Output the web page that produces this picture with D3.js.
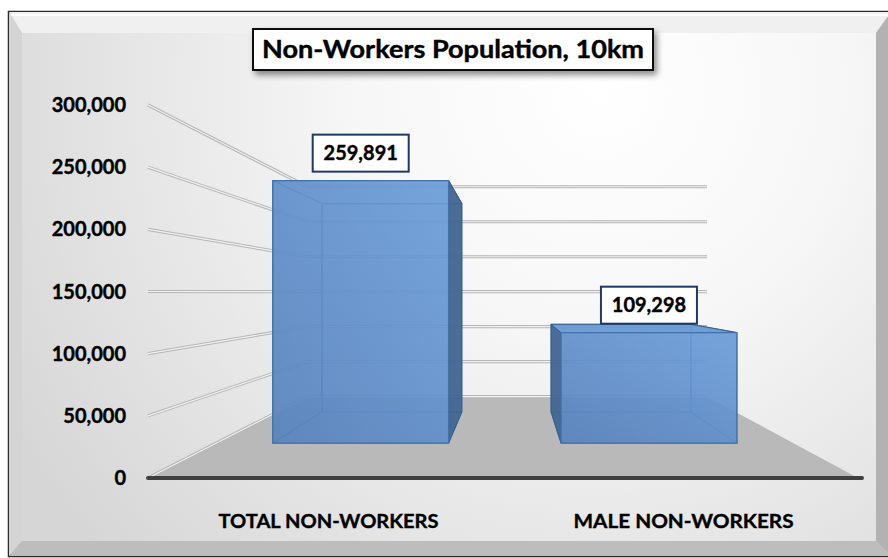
<!DOCTYPE html>
<html><head><meta charset="utf-8">
<script src="https://cdn.jsdelivr.net/npm/d3@7"></script>
<style>body{margin:0;background:#fff}svg{display:block}</style>
</head><body>
<svg id="chart" width="888" height="558"></svg>
<script>
const title = "Non-Workers Population, 10km";
const categories = ["TOTAL NON-WORKERS", "MALE NON-WORKERS"];
const values = [259891, 109298];
const yTicks = [0, 50000, 100000, 150000, 200000, 250000, 300000];
const yMax = 300000;

const svg = d3.select("#chart");
const defs = svg.append("defs");
const FONT = "Lato, 'Open Sans', sans-serif";

// gradients
const rg = defs.append("radialGradient").attr("id","bg").attr("gradientUnits","userSpaceOnUse")
  .attr("cx",600).attr("cy",90).attr("r",680);
rg.append("stop").attr("offset",0).attr("stop-color","#ffffff");
rg.append("stop").attr("offset",0.35).attr("stop-color","#f7f7f7");
rg.append("stop").attr("offset",1).attr("stop-color","#d6d6d6");

const fg = defs.append("linearGradient").attr("id","front").attr("x1",0).attr("y1",1).attr("x2",1).attr("y2",0);
fg.append("stop").attr("offset",0).attr("stop-color","#5883bd");
fg.append("stop").attr("offset",1).attr("stop-color","#6c9fdb");

const sh = defs.append("filter").attr("id","shadow").attr("x","-10%").attr("y","-20%").attr("width","130%").attr("height","160%");
sh.append("feDropShadow").attr("dx",3).attr("dy",4).attr("stdDeviation",3).attr("flood-color","#000").attr("flood-opacity",0.45);

// frame with bevel
const O = {x0:9, y0:12, x1:891, y1:556};
const I = {x0:22, y0:33, x1:876, y1:541};
svg.append("rect").attr("x",O.x0).attr("y",O.y0).attr("width",O.x1-O.x0).attr("height",O.y1-O.y0)
  .attr("fill","#d0d0d0").attr("stroke","#2a2a2a").attr("stroke-width",2.5);
const bev = [
  {p:[[O.x0,O.y0],[O.x1,O.y0],[I.x1,I.y0],[I.x0,I.y0]], c:"#f0f0f0"},
  {p:[[O.x0,O.y0],[I.x0,I.y0],[I.x0,I.y1],[O.x0,O.y1]], c:"#d4d4d4"},
  {p:[[O.x1,O.y0],[O.x1,O.y1],[I.x1,I.y1],[I.x1,I.y0]], c:"#b2b2b2"},
  {p:[[O.x0,O.y1],[I.x0,I.y1],[I.x1,I.y1],[O.x1,O.y1]], c:"#bdbdbd"}
];
svg.append("g").selectAll("path").data(bev).join("path")
  .attr("d", d => d3.line()(d.p)+"Z").attr("fill", d=>d.c);
svg.append("rect").attr("x",O.x0+2).attr("y",O.y0+2).attr("width",O.x1-O.x0-4).attr("height",2).attr("fill","#ffffff");
svg.append("rect").attr("x",I.x0).attr("y",I.y0).attr("width",I.x1-I.x0).attr("height",I.y1-I.y0).attr("fill","url(#bg)");

// scales
const y = d3.scaleLinear().domain([0, yMax]).range([478, 105]);
const x = d3.scaleBand().domain(categories).range([148, 858]).paddingInner(0.39).paddingOuter(0.195);
const vx = 512.7, vy = 292, k = 0.777;
function proj(px, v, z){ const s = 1/(1+k*z); return [vx + s*(px-vx), vy + s*(y(v)-vy)]; }
const line = d3.line();

const xL = x.range()[0], xR = x.range()[1];

// floor
svg.append("path").attr("d", line([proj(xL,0,0),proj(xR,0,0),proj(xR,0,1),proj(xL,0,1)])+"Z")
  .attr("fill","#b9b9b9");

// gridlines (left wall + back wall)
const gl = svg.append("g");
yTicks.forEach(v => {
  const pts = [proj(xL,v,0), proj(xL,v,1), proj(xR,v,1)];
  gl.append("path").attr("d", line(pts)).attr("fill","none").attr("stroke","#b5b5b5").attr("stroke-width",3.2).attr("stroke-linejoin","round");
  gl.append("path").attr("d", line(pts)).attr("fill","none").attr("stroke","#f2f2f2").attr("stroke-width",1.2).attr("stroke-linejoin","round");
});

// bars
const z0 = 0.298, z1 = 0.708;
const barG = svg.append("g");
categories.forEach((c, i) => {
  const v = values[i];
  const x0 = x(c), x1 = x0 + x.bandwidth();
  const FBL=proj(x0,0,z0), FBR=proj(x1,0,z0), FTR=proj(x1,v,z0), FTL=proj(x0,v,z0);
  const BBL=proj(x0,0,z1), BBR=proj(x1,0,z1), BTR=proj(x1,v,z1), BTL=proj(x0,v,z1);
  const faces = {
    back:[BBL,BBR,BTR,BTL], bottom:[FBL,FBR,BBR,BBL],
    left:[FBL,BBL,BTL,FTL], right:[FBR,BBR,BTR,FTR],
    top:[FTL,FTR,BTR,BTL], front:[FBL,FBR,FTR,FTL]
  };
  const vis = {front:true, right: x1 < vx, left: x0 > vx, top: y(v) > vy, bottom: y(0) < vy, back:false};
  const g = barG.append("g");
  Object.keys(faces).filter(f => !vis[f]).forEach(f => {
    g.append("path").attr("d", line(faces[f])+"Z").attr("fill","#4f7fb8").attr("fill-opacity",0.45)
      .attr("stroke","#4d7db5").attr("stroke-width",1.2).attr("stroke-linejoin","round");
  });
  ["left","right","top"].filter(f => vis[f]).forEach(f => {
    const col = f==="top" ? "#6a9bd6" : "#42658f";
    g.append("path").attr("d", line(faces[f])+"Z").attr("fill",col).attr("fill-opacity",0.92)
      .attr("stroke","#3b5f8c").attr("stroke-width",1).attr("stroke-linejoin","round");
  });
  g.append("path").attr("d", line(faces.front)+"Z").attr("fill","url(#front)").attr("fill-opacity",0.86)
    .attr("stroke","#4472a8").attr("stroke-width",1.3).attr("stroke-linejoin","round");

  // data label
  const cx = (FBL[0]+FBR[0])/2, bottom = FTL[1]-9, w = 96, h = 37;
  svg.append("rect").attr("class","dl").attr("x",cx-w/2).attr("y",bottom-h).attr("width",w).attr("height",h)
    .attr("fill","#fff").attr("stroke","#1f3864").attr("stroke-width",2);
  svg.append("text").attr("x",cx).attr("y",bottom-h/2+7).attr("text-anchor","middle")
    .attr("font-family",FONT).attr("font-weight","bold").attr("font-size",20).attr("fill","#000")
    .attr("stroke","#000").attr("stroke-width",0.4)
    .text(d3.format(",")(v));
});

// front axis line
svg.append("line").attr("x1",xL).attr("x2",xR+4).attr("y1",y(0)).attr("y2",y(0))
  .attr("stroke","#404040").attr("stroke-width",4).attr("stroke-linecap","round");

// y tick labels
svg.append("g").selectAll("text").data(yTicks).join("text")
  .attr("x",126).attr("y",d=>y(d)+7).attr("text-anchor","end")
  .attr("font-family",FONT).attr("font-weight","bold").attr("font-size",20).attr("fill","#000")
  .attr("stroke","#000").attr("stroke-width",0.4)
  .text(d=>d3.format(",")(d));

// x labels
svg.append("g").selectAll("text").data(categories).join("text")
  .attr("x",d=>x(d)+x.bandwidth()/2+3).attr("y",528).attr("text-anchor","middle")
  .attr("font-family",FONT).attr("font-weight","bold").attr("font-size",18).attr("fill","#000")
  .attr("stroke","#000").attr("stroke-width",0.35)
  .attr("textLength",220).attr("lengthAdjust","spacingAndGlyphs")
  .text(d=>d);

// title
svg.append("rect").attr("x",253).attr("y",29).attr("width",400).attr("height",41)
  .attr("fill","#fff").attr("stroke","#111").attr("stroke-width",2).attr("filter","url(#shadow)");
svg.append("text").attr("x",453).attr("y",58).attr("text-anchor","middle")
  .attr("font-family",FONT).attr("font-weight","bold").attr("font-size",24).attr("fill","#000")
  .attr("stroke","#000").attr("stroke-width",0.4)
  .attr("textLength",382).attr("lengthAdjust","spacingAndGlyphs")
  .text(title);
</script>
</body></html>
